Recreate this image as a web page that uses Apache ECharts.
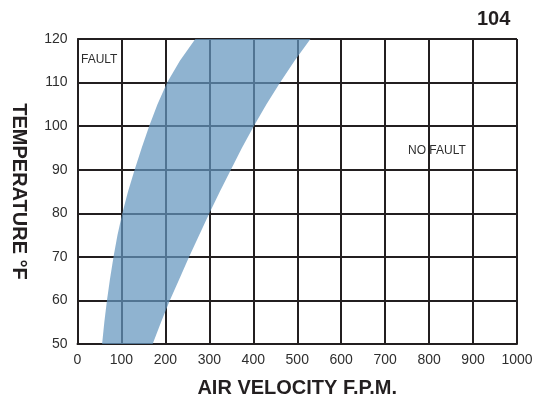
<!DOCTYPE html>
<html>
<head>
<meta charset="utf-8">
<script src="https://cdn.jsdelivr.net/npm/echarts@6/dist/echarts.min.js"></script>
<style>
html,body{margin:0;padding:0;background:#fff;}
#chart{width:539px;height:403px;}
</style>
</head>
<body>
<div id="chart"></div>
<script>
// Temperature (°F) levels at which band edges are read
const temps = [50, 55, 60, 65, 70, 75, 80, 85, 90, 95, 100, 105, 110, 115, 120];
// Air velocity (F.P.M.) of the band's left edge (FAULT side)
const faultEdge = [56, 61, 67, 74, 82, 91, 102, 115, 130, 146, 163, 182, 204, 233, 268];
// Air velocity (F.P.M.) of the band's right edge (NO FAULT side)
const noFaultEdge = [171, 190, 210, 232, 254, 277, 300, 324, 349, 374, 401, 430, 461, 494, 530];

const chartLabel = '104';
const faultText = 'FAULT';
const noFaultText = 'NO FAULT';
const xTitle = 'AIR VELOCITY F.P.M.';
const yTitle = 'TEMPERATURE °F';

const lineColor = '#231f20';
const font = '"Liberation Sans", Arial, Helvetica, sans-serif';

const chart = echarts.init(document.getElementById('chart'), null, {renderer: 'canvas'});

chart.setOption({
  animation: false,
  backgroundColor: '#ffffff',
  grid: {left: 77.5, right: 22, top: 39, bottom: 57.5, containLabel: false},
  xAxis: {
    type: 'value', min: 0, max: 1000, interval: 100,
    name: xTitle, nameLocation: 'middle', nameGap: 34,
    nameTextStyle: {fontFamily: font, fontWeight: 'bold', fontSize: 20, color: '#231f20'},
    axisLine: {show: true, lineStyle: {color: lineColor, width: 2}},
    axisTick: {show: false},
    axisLabel: {fontFamily: font, fontSize: 14, color: '#2e2e2e', margin: 9,
      formatter: function (v) { return String(v); }},
    splitLine: {show: true, lineStyle: {color: lineColor, width: 2}}
  },
  yAxis: {
    type: 'value', min: 50, max: 120, interval: 10,
    name: yTitle, nameLocation: 'middle', nameGap: 49, nameRotate: -90,
    nameTextStyle: {fontFamily: font, fontWeight: 'bold', fontSize: 20, color: '#231f20'},
    axisLine: {show: true, lineStyle: {color: lineColor, width: 2}},
    axisTick: {show: false},
    axisLabel: {fontFamily: font, fontSize: 14, color: '#2e2e2e', margin: 10},
    splitLine: {show: true, lineStyle: {color: lineColor, width: 2}}
  },
  series: [{
    type: 'custom',
    silent: true,
    data: [[0, 50]],
    renderItem: function (params, api) {
      const pts = [];
      for (let i = 0; i < temps.length; i++) pts.push(api.coord([faultEdge[i], temps[i]]));
      for (let i = temps.length - 1; i >= 0; i--) pts.push(api.coord([noFaultEdge[i], temps[i]]));
      return {type: 'polygon', shape: {points: pts}, style: {fill: 'rgba(100,150,190,0.72)'}};
    }
  }],
  graphic: [
    {type: 'text', left: 477, top: 9, style: {text: chartLabel, font: 'bold 20px ' + font, fill: '#231f20'}},
    {type: 'text', left: 81, top: 54, style: {text: faultText, font: '12px ' + font, fill: '#2e2e2e'}},
    {type: 'text', left: 406, top: 144, style: {text: noFaultText, font: '12px ' + font, fill: '#2e2e2e', backgroundColor: '#ffffff', padding: [1, 2]}}
  ]
});
</script>
</body>
</html>
